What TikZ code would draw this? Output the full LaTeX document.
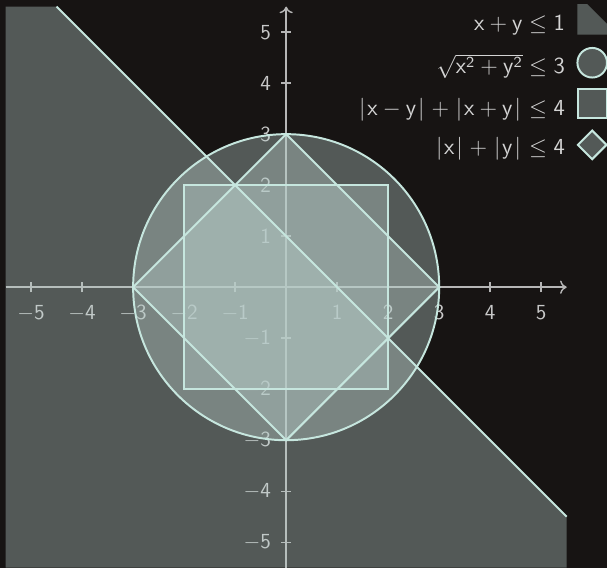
\documentclass[tikz,border=0pt]{standalone}
\usetikzlibrary{arrows.meta}
\definecolor{bgc}{RGB}{23,20,19}
\definecolor{fillc}{RGB}{183,204,200}
\definecolor{edgec}{RGB}{198,230,222}
\definecolor{axisc}{RGB}{182,182,182}
\definecolor{labc}{RGB}{200,200,200}
\definecolor{legc}{RGB}{212,212,212}
\newcommand{\vbar}{\mkern1.4mu|\mkern1.4mu}
\begin{document}
\begin{tikzpicture}[
  axisline/.style={draw=axisc, line width=0.8pt},
  axisarrow/.style={axisline, -{Computer Modern Rightarrow[length=1.3mm,width=2.6mm]}},
  region/.style={fill=fillc, fill opacity=0.38},
  edgeline/.style={draw=edgec, line width=1.1pt},
  ticklab/.style={text=labc, font=\large, inner sep=0pt},
  legtext/.style={text=legc, font=\large, inner sep=0pt, anchor=base east, scale=1.07, transform shape},
]
\fill[bgc] (-5.61,-5.51) rectangle (6.29,5.63);
\useasboundingbox (-5.61,-5.51) rectangle (6.29,5.63);

% axes
\coordinate (xlft) at (-5.5,0);
\coordinate (xrgt) at (5.5,0);
\coordinate (ybot) at (0,-5.5);
\coordinate (ytop) at (0,5.5);
\draw[axisarrow] (xlft) -- (xrgt);
\draw[axisarrow] (ybot) -- (ytop);
\foreach \i in {-5,-4,-3,-2,-1,1,2,3,4,5} {
  \draw[axisline] (\i,-0.1) -- (\i,0.1);
  \draw[axisline] (-0.1,\i) -- (0.1,\i);
  \node[ticklab, anchor=base] (xlab\i) at (\i,-0.63) {$\mathsf{\i}$};
  \node[ticklab, anchor=east] (ylab\i) at (-0.29,\i) {$\mathsf{\i}$};
}

% regions
\fill[region] (-5.5,5.5) -- (-4.5,5.5) -- (5.5,-4.5) -- (5.5,-5.5) -- (-5.5,-5.5) -- cycle;
\fill[region] (0,0) circle (3);
\fill[region] (-2,-2) rectangle (2,2);
\fill[region] (3,0) -- (0,3) -- (-3,0) -- (0,-3) -- cycle;

\draw[edgeline] (-4.5,5.5) -- (5.5,-4.5);
\draw[edgeline] (0,0) circle (3);
\draw[edgeline] (-2,-2) rectangle (2,2);
\draw[edgeline] (3,0) -- (0,3) -- (-3,0) -- (0,-3) -- cycle;

% legend
\fill[region] (5.71,5.55) -- (5.90,5.55) -- (6.29,5.16) -- (6.29,4.95) -- (5.71,4.95) -- cycle;
\filldraw[region, edgeline] (6.0,4.40) circle (0.29);
\filldraw[region, edgeline] (5.73,3.32) rectangle (6.28,3.88);
\filldraw[region, edgeline] (6.28,2.79) -- (6.0,3.07) -- (5.72,2.79) -- (6.0,2.51) -- cycle;

\node[legtext] (leg1) at (5.47,5.04) {$\mathsf{x}+\mathsf{y}\leq\mathsf{1}$};
\node[legtext] (leg2) at (5.47,4.18) {$\sqrt{\mathsf{x}^{\mathsf{2}}+\mathsf{y}^{\mathsf{2}}}\leq\mathsf{3}$};
\node[legtext] (leg3) at (5.47,3.37) {$\vbar\mathsf{x}-\mathsf{y}\vbar+\vbar\mathsf{x}+\mathsf{y}\vbar\leq\mathsf{4}$};
\node[legtext] (leg4) at (5.47,2.61) {$\vbar\mathsf{x}\vbar+\vbar\mathsf{y}\vbar\leq\mathsf{4}$};
\end{tikzpicture}
\end{document}
